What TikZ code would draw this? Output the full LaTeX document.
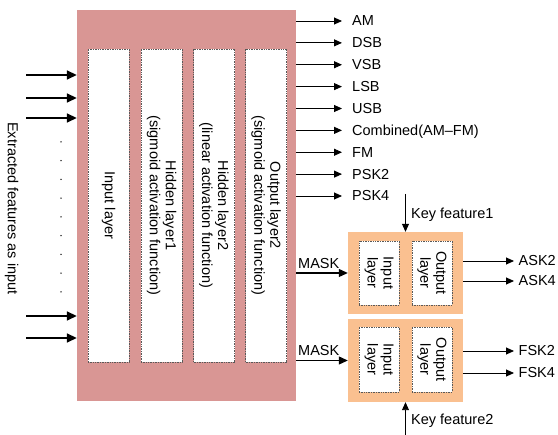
\documentclass[tikz,border=0pt]{standalone}
\usepackage{fontspec}
\setmainfont{Liberation Sans}
\usetikzlibrary{arrows.meta}
\definecolor{pinkbg}{RGB}{217,150,148}
\definecolor{orangebg}{RGB}{250,192,144}
\begin{document}
\begin{tikzpicture}[x=1pt,y=-1pt,
  font=\fontsize{14.5}{16}\selectfont,
  bigbox/.style={fill=pinkbg, draw=none, inner sep=0pt},
  keybox/.style={fill=orangebg, draw=none, inner sep=0pt, minimum width=115pt},
  layerbox/.style={fill=white, draw=black!65, densely dotted, line width=0.7pt, inner sep=0pt},
  layertext/.style={rotate=-90, align=center, inner sep=0pt},
  inarrow/.style={line width=1.6pt, -{Triangle[length=10pt,width=9pt]}},
  outarrow/.style={line width=0.9pt, -{Triangle[length=8pt,width=7pt]}},
  maskarrow/.style={line width=1.1pt, -{Triangle[length=9pt,width=8pt]}},
  lbl/.style={anchor=west, inner ysep=0pt, text height=10pt, text depth=0pt},
]
\useasboundingbox (0,0) rectangle (558,435);

% main network
\node[bigbox, minimum width=219pt, minimum height=391pt] (nn) at (186.5,205.5) {};
\node[layerbox, minimum width=41pt, minimum height=313pt] (L1) at (108.5,205.5) {};
\node[layerbox, minimum width=41pt, minimum height=313pt] (L2) at (161.5,205.5) {};
\node[layerbox, minimum width=41pt, minimum height=313pt] (L3) at (214,205.5) {};
\node[layerbox, minimum width=41pt, minimum height=313pt] (L4) at (266,205.5) {};
\node[layertext] (L1t) at (L1.center) {Input layer};
\node[layertext] (L2t) at (L2.center) {Hidden layer1\\(sigmoid activation function)};
\node[layertext] (L3t) at (L3.center) {Hidden layer2\\(linear activation function)};
\node[layertext] (L4t) at (L4.center) {Output layer2\\(sigmoid activation function)};

% inputs
\node[rotate=-90, inner sep=0pt, text height=10pt, text depth=0pt] (ext) at (13,208.5) {Extracted features as input};
\foreach \yy [count=\i] in {75,98,118,316,338} {
  \coordinate (in\i) at (26,\yy);
  \draw[inarrow] (in\i) -- (in\i -| nn.west);
}
\foreach \i in {0,...,8} {
  \fill (61,142+18.75*\i) circle (0.75pt);
}

% outputs of main network
\foreach \name/\txt [count=\i from 0] in {am/AM,dsb/DSB,vsb/VSB,lsb/LSB,usb/USB,comb/Combined(AM--FM),fm/FM,psk2/PSK2,psk4/PSK4} {
  \node[lbl, inner xsep=10pt] (\name) at (342,21+21.875*\i) {\txt};
  \draw[outarrow] (nn.east |- \name.west) -- (\name.west);
}

% key boxes
\node[keybox, minimum height=82pt] (k1) at (405.5,273) {};
\node[keybox, minimum height=83pt] (k2) at (405.5,360.5) {};
\node[layerbox, minimum width=40pt, minimum height=64pt] (k1i) at (379,273) {};
\node[layerbox, minimum width=40pt, minimum height=64pt] (k1o) at (432,273) {};
\node[layerbox, minimum width=40pt, minimum height=65pt] (k2i) at (379,359.5) {};
\node[layerbox, minimum width=40pt, minimum height=65pt] (k2o) at (432,359.5) {};
\node[layertext] (k1it) at (k1i.center) {Input\\layer};
\node[layertext] (k1ot) at (k1o.center) {Output\\layer};
\node[layertext] (k2it) at (k2i.center) {Input\\layer};
\node[layertext] (k2ot) at (k2o.center) {Output\\layer};

% MASK inputs
\draw[maskarrow] (nn.east |- k1.west) -- (k1.west);
\draw[maskarrow] (nn.east |- k2.west) -- (k2.west);
\node[anchor=south west, inner sep=0pt, text height=10pt, text depth=0pt] (mask1) at (298,269) {MASK};
\node[anchor=south west, inner sep=0pt, text height=10pt, text depth=0pt] (mask2) at (298,356) {MASK};

% key features
\coordinate (kf1) at (405.5,194);
\coordinate (kf2) at (405.5,435);
\draw[outarrow] (kf1) -- (k1.north);
\draw[outarrow] (kf2) -- (k2.south);
\node[lbl, inner xsep=1pt] (kf1t) at (410,214) {Key feature1};
\node[lbl, inner xsep=1pt] (kf2t) at (410,420) {Key feature2};

% outputs of key boxes
\node[lbl, inner xsep=4.5pt] (ask2) at (514,261) {ASK2};
\node[lbl, inner xsep=4.5pt] (ask4) at (514,281) {ASK4};
\node[lbl, inner xsep=4.5pt] (fsk2) at (514,351) {FSK2};
\node[lbl, inner xsep=4.5pt] (fsk4) at (514,373) {FSK4};
\draw[outarrow] (k1.east |- ask2.west) -- (ask2.west);
\draw[outarrow] (k1.east |- ask4.west) -- (ask4.west);
\draw[outarrow] (k2.east |- fsk2.west) -- (fsk2.west);
\draw[outarrow] (k2.east |- fsk4.west) -- (fsk4.west);
\end{tikzpicture}
\end{document}
